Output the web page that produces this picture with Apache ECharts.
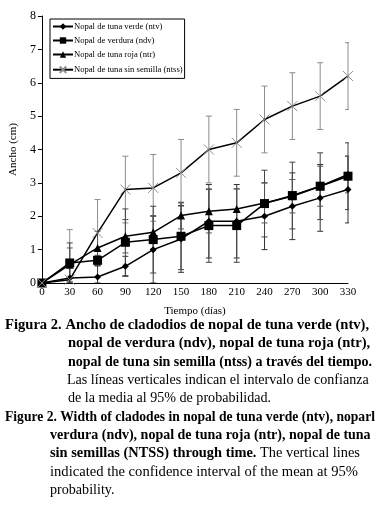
<!DOCTYPE html>
<html>
<head>
<meta charset="utf-8">
<script src="https://cdn.jsdelivr.net/npm/echarts@6/dist/echarts.min.js"></script>
<style>
  html, body { margin: 0; padding: 0; background: #fff; }
  #chart { width: 384px; height: 505px; }
</style>
</head>
<body>
<div id="chart"></div>
<script>
// days after planting
const days = [0, 30, 60, 90, 120, 150, 180, 210, 240, 270, 300, 330]

// mean cladode width (cm)
const ntv  = [0, 0.15, 0.18, 0.5, 1.0, 1.32, 1.85, 1.85, 2.0, 2.3, 2.55, 2.8]
const ndv  = [0, 0.6, 0.68, 1.22, 1.3, 1.4, 1.72, 1.72, 2.38, 2.62, 2.9, 3.2]
const ntr  = [0, 0.55, 1.05, 1.4, 1.52, 2.02, 2.15, 2.22, 2.4, 2.6, 2.9, 3.25]
const ntss = [0, 0.1, 1.5, 2.8, 2.85, 3.3, 4.0, 4.2, 4.9, 5.3, 5.6, 6.2]

// half width of the 95% confidence interval
const ntvErr  = [0, 0.35, 0.35, 0.3, 1.0, 1.0, 1.1, 1.1, 1.0, 1.0, 1.0, 1.0]
const ndvErr  = [0, 0.6, 0.15, 1.0, 1.0, 1.0, 1.1, 1.1, 1.0, 1.0, 1.0, 1.0]
const ntrErr  = [0, 0.5, 0.5, 0.5, 0.5, 0.4, 0.65, 0.6, 0.6, 0.5, 0.6, 0.55]
const ntssErr = [0, 1.5, 1.0, 1.0, 1.0, 1.0, 1.0, 1.0, 1.0, 1.0, 1.0, 1.0]

const names = [
  'Nopal de tuna verde (ntv)',
  'Nopal de verdura (ndv)',
  'Nopal de tuna roja (ntr)',
  'Nopal de tuna sin semilla (ntss)'
]

const serif = '"Liberation Serif", "DejaVu Serif", serif'

function pairs(vals) {
  return days.map((d, i) => [d, vals[i]])
}

function errBars(vals, errs, color) {
  return {
    type: 'custom',
    silent: true,
    clip: true,
    z: 1,
    data: days.map((d, i) => [d, Math.max(0, vals[i] - errs[i]), vals[i] + errs[i]]),
    renderItem: (params, api) => {
      const lo = api.coord([api.value(0), api.value(1)])
      const hi = api.coord([api.value(0), api.value(2)])
      const w = 3
      const st = { stroke: color, lineWidth: 1 }
      return {
        type: 'group',
        children: [
          { type: 'line', shape: { x1: lo[0], y1: lo[1], x2: hi[0], y2: hi[1] }, style: st },
          { type: 'line', shape: { x1: lo[0] - w, y1: lo[1], x2: lo[0] + w, y2: lo[1] }, style: st },
          { type: 'line', shape: { x1: hi[0] - w, y1: hi[1], x2: hi[0] + w, y2: hi[1] }, style: st }
        ]
      }
    }
  }
}

function lineSeries(name, vals, symbol, size, extra) {
  return Object.assign({
    name: name,
    type: 'line',
    data: pairs(vals),
    symbol: symbol,
    symbolSize: size,
    z: 3,
    animation: false,
    lineStyle: { color: '#000', width: 1.5 },
    itemStyle: { color: '#000' }
  }, extra || {})
}

const cross = 'path://M0,0L10,10M10,0L0,10'

function caption(x, y, text, size, bold) {
  return {
    type: 'text', left: x, top: y,
    style: { text: text, font: (bold ? 'bold ' : '') + size + 'px ' + serif, fill: '#000' }
  }
}

const chart = echarts.init(document.getElementById('chart'))

chart.setOption({
  animation: false,
  textStyle: { fontFamily: serif },
  grid: { left: 38, right: 36, top: 16, bottom: 222 },
  legend: {
    orient: 'vertical',
    left: 50,
    top: 19,
    borderColor: '#000',
    borderWidth: 1,
    borderRadius: 0,
    padding: [3, 2, 3, 2],
    itemGap: 5,
    itemWidth: 20,
    itemHeight: 8,
    textStyle: { fontFamily: serif, fontSize: 8.6, color: '#000', padding: [0, 0, 0, -4] },
    data: names
  },
  xAxis: {
    type: 'value',
    min: 0,
    max: 330,
    interval: 30,
    name: 'Tiempo (días)',
    nameLocation: 'middle',
    nameGap: 23,
    nameTextStyle: { fontFamily: serif, fontSize: 11, color: '#000' },
    axisLine: { lineStyle: { color: '#000' } },
    axisTick: { show: false },
    axisLabel: { fontFamily: serif, fontSize: 11, color: '#000', margin: 4 },
    splitLine: { show: false }
  },
  yAxis: {
    type: 'value',
    min: 0,
    max: 8,
    interval: 1,
    name: 'Ancho (cm)',
    nameLocation: 'middle',
    nameGap: 22,
    nameTextStyle: { fontFamily: serif, fontSize: 11, color: '#000' },
    axisLine: { show: true, lineStyle: { color: '#000' } },
    axisTick: { show: true, length: 4, lineStyle: { color: '#000' } },
    axisLabel: { fontFamily: serif, fontSize: 12, color: '#000', margin: 6 },
    splitLine: { show: false }
  },
  series: [
    errBars(ntss, ntssErr, '#8c8c8c'),
    errBars(ntv, ntvErr, '#333'),
    errBars(ndv, ndvErr, '#444'),
    errBars(ntr, ntrErr, '#555'),
    lineSeries(names[0], ntv, 'diamond', 7),
    lineSeries(names[1], ndv, 'rect', 9),
    lineSeries(names[2], ntr, 'triangle', 8),
    lineSeries(names[3], ntss, cross, 10, {
      itemStyle: { color: 'none', borderColor: '#8c8c8c', borderWidth: 1 }
    })
  ],
  graphic: [
    caption(5, 318, 'Figura 2. Ancho de cladodios de nopal de tuna verde (ntv),', 14.6, true),
    caption(68, 336, 'nopal de verdura (ndv), nopal de tuna roja (ntr),', 14.6, true),
    caption(68, 355, 'nopal de tuna sin semilla (ntss) a través del tiempo.', 14, true),
    caption(67, 373, 'Las líneas verticales indican el intervalo de confianza', 14.1, false),
    caption(68, 391, 'de la media al 95% de probabilidad.', 14.1, false),
    caption(5, 410, 'Figure 2. Width of cladodes in nopal de tuna verde (ntv), noparl', 13.6, true),
    caption(50, 428, 'verdura (ndv), nopal de tuna roja (ntr), nopal de tuna', 14, true),
    {
      type: 'text', left: 50, top: 446,
      style: {
        text: '{b|sin semillas (NTSS) through time.} The vertical lines',
        font: '14.4px ' + serif, fill: '#000',
        rich: { b: { fontWeight: 'bold', fontFamily: serif, fontSize: 14.4 } }
      }
    },
    caption(50, 465, 'indicated the confidence interval of the mean at 95%', 14.6, false),
    caption(50, 483, 'probability.', 14.1, false)
  ]
})
</script>
</body>
</html>
